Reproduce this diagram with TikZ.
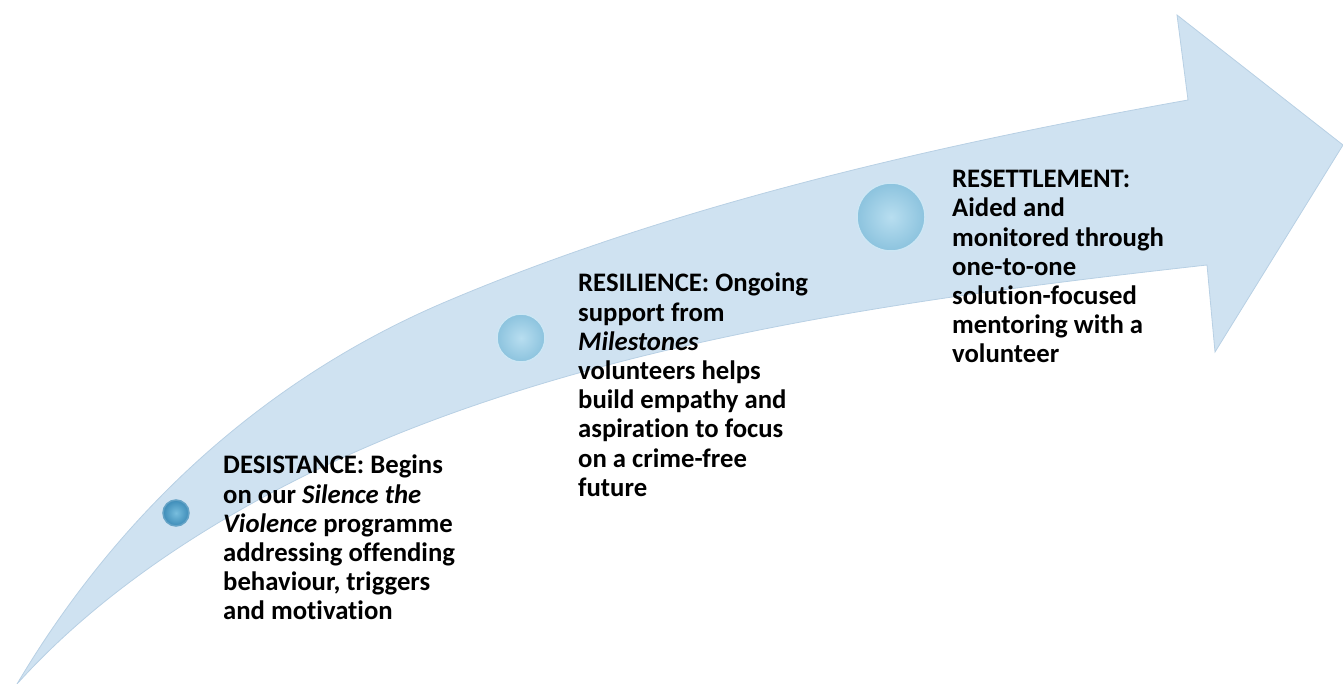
\documentclass[tikz,border=0pt]{standalone}
\usepackage{fontspec}
\setmainfont{Carlito}[Ligatures=NoCommon]
\definecolor{arrowblue}{RGB}{207,226,241}
\definecolor{arrowedge}{RGB}{184,208,228}
\definecolor{bubblein}{RGB}{184,222,240}
\definecolor{bubbleout}{RGB}{140,195,222}
\definecolor{bubblerim}{RGB}{205,230,244}
\definecolor{dotin}{RGB}{120,190,222}
\definecolor{dotout}{RGB}{62,140,184}

\begin{document}
\begin{tikzpicture}[x=1pt,y=-1pt,
    bubble/.style={circle,draw=bubblerim,line width=1.5pt,inner color=bubblein,outer color=bubbleout},
    stage/.style={anchor=north west,inner sep=0,align=left,font=\fontsize{26.7}{29.2}\selectfont\bfseries}]
  \useasboundingbox (0,0) rectangle (1343,684);
  % curved arrow: upper edge, head, lower edge back to the tail
  \filldraw[fill=arrowblue,draw=arrowedge,line width=0.8pt]
    (17,684) .. controls (119,512) and (266,377) .. (450,300)
    .. controls (680,203) and (942,144) .. (1188,100)
    -- (1177,15) -- (1343,145) -- (1215,352) -- (1207,265)
    .. controls (939,295) and (650,333) .. (400,433)
    .. controls (261,489) and (117,573) .. (17,684) -- cycle;
  % the three stages
  \node[bubble,inner color=dotin,outer color=dotout,draw=dotout!80,minimum size=26] (desistdot) at (176,513) {};
  \node[bubble,minimum size=48] (resildot) at (521,338) {};
  \node[bubble,minimum size=68] (resettledot) at (891,217) {};
  \node[stage] (desist) at (223,455) {DESISTANCE: Begins\\ on our \textit{Silence the}\\ \textit{Violence} programme\\ addressing offending\\ behaviour, triggers\\ and motivation};
  \node[stage] (resil) at (578,273) {RESILIENCE: Ongoing\\ support from\\ \textit{Milestones}\\ volunteers helps\\ build empathy and\\ aspiration to focus\\ on a crime-free\\ future};
  \node[stage] (resettle) at (952,170) {RESETTLEMENT:\\ Aided and\\ monitored through\\ one-to-one\\ solution-focused\\ mentoring with a\\ volunteer};
\end{tikzpicture}
\end{document}
